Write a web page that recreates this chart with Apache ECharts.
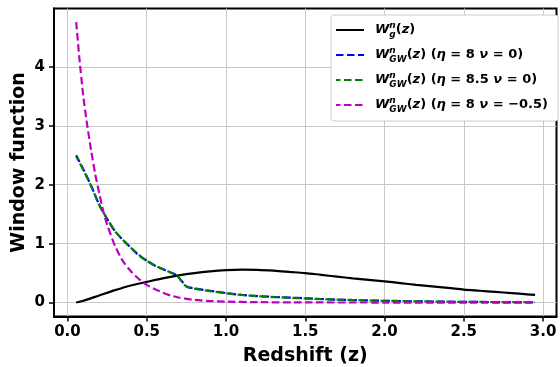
<!DOCTYPE html>
<html>
<head>
<meta charset="utf-8">
<script src="https://cdn.jsdelivr.net/npm/echarts@6/dist/echarts.min.js"></script>
<style>
html,body{margin:0;padding:0;background:#fff;}
#c{width:560px;height:367px;}
</style>
</head>
<body>
<div id="c"></div>
<script>
// ---- data ----
var zG = [0.055,0.1,0.2,0.3,0.4,0.5,0.6,0.7,0.8,0.9,1.0,1.1,1.2,1.3,1.4,1.5,1.6,1.7,1.8,1.9,2.0,2.1,2.2,2.3,2.4,2.5,2.6,2.7,2.8,2.9,2.95];
var wG = [0.0,0.03,0.12,0.21,0.29,0.35,0.41,0.46,0.50,0.53,0.55,0.56,0.555,0.54,0.52,0.50,0.47,0.44,0.41,0.385,0.36,0.33,0.30,0.275,0.25,0.22,0.20,0.18,0.16,0.14,0.13];

var zGW = [0.055,0.1,0.15,0.2,0.25,0.3,0.35,0.4,0.45,0.5,0.55,0.6,0.65,0.69,0.75,0.8,0.9,1.0,1.1,1.2,1.3,1.4,1.5,1.6,1.7,1.8,2.0,2.2,2.4,2.6,2.8,2.95];
var wGW1 = [2.50,2.26,1.98,1.66,1.42,1.21,1.06,0.93,0.80,0.71,0.63,0.57,0.51,0.46,0.275,0.24,0.20,0.16,0.13,0.11,0.095,0.083,0.072,0.06,0.05,0.042,0.03,0.021,0.015,0.01,0.007,0.005];
var wGW2 = [2.48,2.25,1.97,1.66,1.42,1.21,1.06,0.93,0.81,0.71,0.63,0.57,0.51,0.46,0.27,0.235,0.195,0.157,0.128,0.108,0.093,0.081,0.07,0.058,0.049,0.041,0.029,0.02,0.014,0.01,0.007,0.005];

var zM = [0.055,0.075,0.1,0.125,0.15,0.175,0.2,0.225,0.25,0.3,0.35,0.4,0.45,0.5,0.55,0.6,0.65,0.7,0.8,0.9,1.0,1.2,1.5,2.0,2.5,2.95];
var wM = [4.76,4.15,3.50,3.00,2.57,2.18,1.86,1.56,1.32,0.96,0.70,0.53,0.40,0.30,0.23,0.17,0.12,0.085,0.045,0.025,0.015,0.006,0.002,0.0,0.0,0.0];

var xTicks = [0,0.5,1,1.5,2,2.5,3];
var yTicks = [0,1,2,3,4];

function pairs(xs, ys){ return xs.map(function(x,i){ return [x, ys[i]]; }); }

var FONT = 'DejaVu Sans';
var chart = echarts.init(document.getElementById('c'), null, {renderer:'canvas'});

var rich = {
  i:   {fontFamily:FONT, fontWeight:'bold', fontStyle:'italic', fontSize:13, color:'#000', lineHeight:18},
  r:   {fontFamily:FONT, fontWeight:'bold', fontSize:13, color:'#000', lineHeight:18},
  sup: {fontFamily:FONT, fontWeight:'bold', fontStyle:'italic', fontSize:9, color:'#000', verticalAlign:'top', width:0.01, lineHeight:18},
  sub: {fontFamily:FONT, fontWeight:'bold', fontStyle:'italic', fontSize:9, color:'#000', verticalAlign:'bottom', lineHeight:18}
};
var legendText = {
  'Wg':  '{i|W}{sup|n}{sub|g}{r|(}{i|z}{r|)}',
  'GW1': '{i|W}{sup|n}{sub|GW}{r|(}{i|z}{r|) (}{i|η}{r| = 8 }{i|ν}{r| = 0)}',
  'GW2': '{i|W}{sup|n}{sub|GW}{r|(}{i|z}{r|) (}{i|η}{r| = 8.5 }{i|ν}{r| = 0)}',
  'GW3': '{i|W}{sup|n}{sub|GW}{r|(}{i|z}{r|) (}{i|η}{r| = 8 }{i|ν}{r| = −0.5)}'
};

var DASH = [7.5,3.5];
var option = {
  animation: false,
  backgroundColor: '#fff',
  grid: {left:54, right:3.5, top:8.5, bottom:50.5, show:true, borderColor:'#000', borderWidth:2,
    backgroundColor:'transparent', containLabel:false, outerBoundsMode:'none'},
  legend: {
    orient:'vertical', left:331, top:15,
    padding:[6,10,7,4], itemGap:7, itemWidth:28, itemHeight:14,
    backgroundColor:'#fff', borderColor:'#cccccc', borderWidth:1, borderRadius:3,
    data:['Wg','GW1','GW2','GW3'],
    itemStyle:{opacity:0},
    formatter: function(n){ return legendText[n]; },
    textStyle: {rich: rich, padding:[0,0,0,6]}
  },
  xAxis: {
    type:'value', min:-0.085, max:3.085,
    name:'Redshift (z)', nameLocation:'middle', nameGap:30, nameMoveOverlap:false,
    nameTextStyle:{fontFamily:FONT, fontWeight:'bold', fontSize:19, color:'#000'},
    axisLine:{show:true, onZero:false, lineStyle:{color:'#000', width:2}},
    axisTick:{show:true, length:5, customValues:xTicks, lineStyle:{color:'#000', width:1.5}},
    axisLabel:{customValues:xTicks, margin:8, fontFamily:FONT, fontWeight:'bold', fontSize:15, color:'#000',
      formatter:function(v){ return v.toFixed(1); }},
    splitLine:{show:true, lineStyle:{color:'#c8c8c8', width:1}}
  },
  yAxis: {
    type:'value', min:-0.237, max:4.99,
    name:'Window function', nameLocation:'middle', nameGap:25, nameMoveOverlap:false,
    nameTextStyle:{fontFamily:FONT, fontWeight:'bold', fontSize:19, color:'#000'},
    axisLine:{show:true, onZero:false, lineStyle:{color:'#000', width:2}},
    axisTick:{show:true, length:5, customValues:yTicks, lineStyle:{color:'#000', width:1.5}},
    axisLabel:{customValues:yTicks, margin:9, fontFamily:FONT, fontWeight:'bold', fontSize:15, color:'#000',
      formatter:function(v){ return String(Math.round(v)); }},
    splitLine:{show:true, lineStyle:{color:'#c8c8c8', width:1}}
  },
  series: [
    {name:'Wg', type:'line', data:pairs(zG,wG), smooth:0.3, symbol:'none', color:'#000',
      lineStyle:{color:'#000', width:2.2}},
    {name:'GW1', type:'line', data:pairs(zGW,wGW1), smooth:0.2, symbol:'none', color:'#0000ff',
      lineStyle:{color:'#0000ff', width:2.2, type:DASH}},
    {name:'GW2', type:'line', data:pairs(zGW,wGW2), smooth:0.2, symbol:'none', color:'#008000',
      lineStyle:{color:'#008000', width:2.2, type:DASH, dashOffset:3}},
    {name:'GW3', type:'line', data:pairs(zM,wM), smooth:0.2, symbol:'none', color:'#bf00bf',
      lineStyle:{color:'#bf00bf', width:2.2, type:DASH}}
  ]
};
chart.setOption(option);
</script>
</body>
</html>
